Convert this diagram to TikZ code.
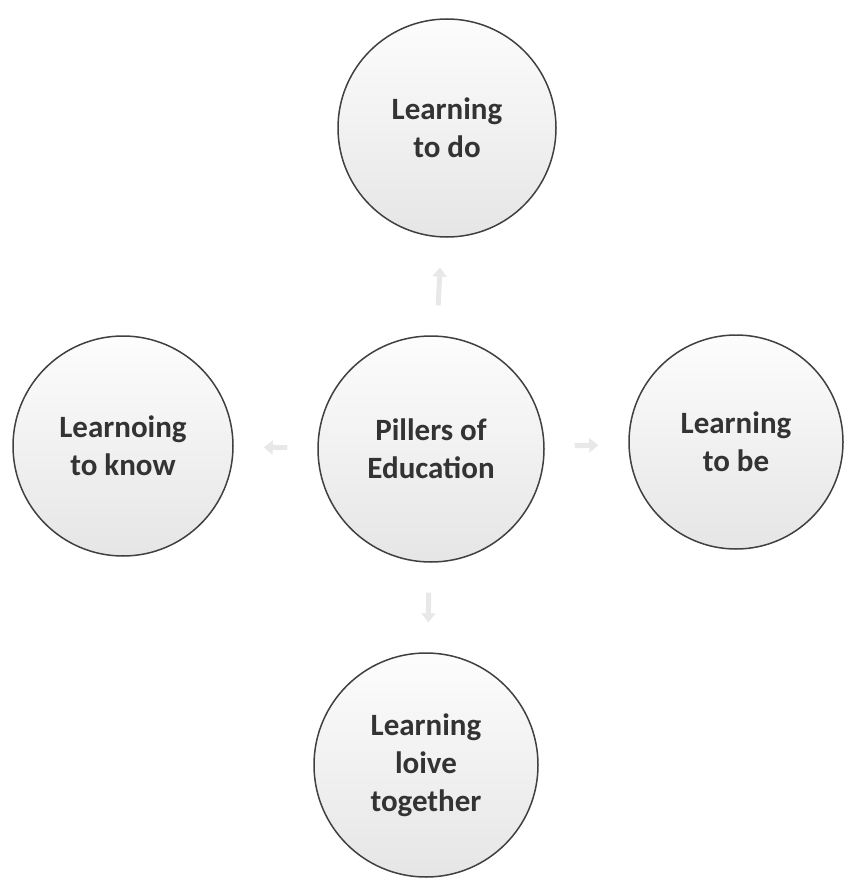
\documentclass[tikz,border=0pt]{standalone}
\usepackage{fontspec}
\setmainfont{Carlito}
\usepackage{tikz}
\usetikzlibrary{positioning, arrows.meta, shapes.geometric, calc}

\begin{document}
\begin{tikzpicture}[
  x=1pt, y=-1pt,
  pillar/.style={circle, draw=black!75, line width=1.5pt,
    top color=gray!2, bottom color=gray!20, inner sep=0pt,
    align=center, text=black!80,
    font=\fontsize{31}{38}\selectfont\bfseries},
  arrow/.style={-{Triangle[length=9pt, width=14pt]}, line width=5pt,
    draw=gray!18, shorten <=30pt, shorten >=30pt}
]
  \useasboundingbox (0,0) rectangle (843,885);

  % Nodes
  \node[pillar, minimum size=226pt] (center) at (431,449) {Pillers of\\Education};
  \node[pillar, minimum size=218pt] (do) at (447,128) {Learning\\to do};
  \node[pillar, minimum size=220pt] (know) at (123,446) {Learnoing\\to know};
  \node[pillar, minimum size=214pt] (be) at (736,442) {Learning\\to be};
  \node[pillar, minimum size=224pt] (live) at (426,765) {Learning\\loive\\together};

  % Arrows
  \draw[arrow] (center) -- (do);
  \draw[arrow] (center) -- (know);
  \draw[arrow] (center) -- (be);
  \draw[arrow] (center) -- (live);
\end{tikzpicture}
\end{document}
